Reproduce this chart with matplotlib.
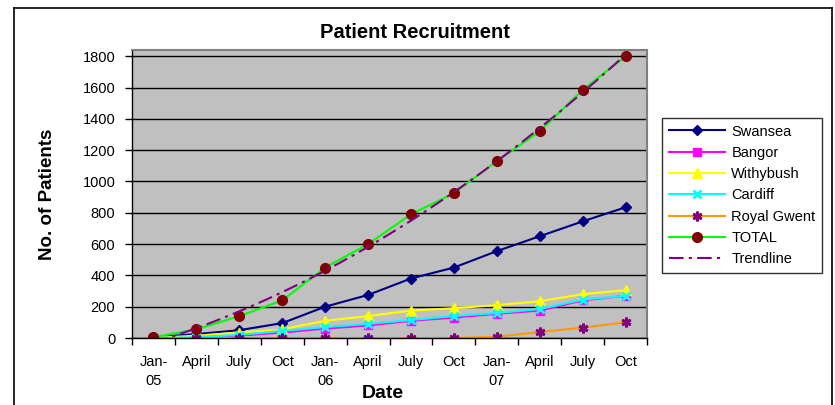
import numpy as np
import matplotlib
matplotlib.use('Agg')
import matplotlib.pyplot as plt
from matplotlib.lines import Line2D

plt.rcParams['font.family'] = ['Liberation Sans', 'DejaVu Sans']

# data
months = ['Jan-\n05', 'April', 'July', 'Oct', 'Jan-\n06', 'April', 'July', 'Oct',
          'Jan-\n07', 'April', 'July', 'Oct']
swansea = [5, 25, 50, 95, 200, 275, 380, 450, 555, 650, 745, 835]
bangor = [0, 10, 15, 35, 60, 80, 110, 130, 155, 175, 240, 270]
withybush = [0, 15, 35, 55, 110, 140, 175, 190, 210, 235, 280, 305]
cardiff = [0, 5, 20, 45, 70, 90, 115, 140, 160, 185, 245, 270]
royal_gwent = [0, 0, 0, 0, 0, 0, 0, 0, 8, 38, 66, 100]
total = [5, 55, 140, 240, 450, 600, 790, 925, 1130, 1320, 1585, 1800]

x = np.arange(len(months))

fig = plt.figure(figsize=(8.35, 4.05), dpi=100)
ax = fig.add_axes([132/835, 1 - 338/405, 515/835, 288/405])
ax.set_facecolor('#C0C0C0')

ax.plot(x, swansea, color='#000080', marker='D', ms=5.5, lw=1.5, label='Swansea')
ax.plot(x, bangor, color='#FF00FF', marker='s', ms=5.5, lw=1.5, label='Bangor')
ax.plot(x, withybush, color='#FFFF00', marker='^', ms=6.5, lw=1.5, label='Withybush')
ax.plot(x, cardiff, color='#00FFFF', marker='x', ms=6, mew=2, lw=1.5, label='Cardiff')
ax.plot(x, royal_gwent, color='#FF9900', marker=(6, 2, 0), ms=7, mew=2,
        mec='#800080', lw=1.5, label='Royal Gwent')
ax.plot(x, total, color='#00FF00', marker='o', ms=7, mfc='#800000', mec='#800000',
        lw=1.5, label='TOTAL')

# 2nd order polynomial trendline of TOTAL (as Excel does)
coef = np.polyfit(x, total, 2)
xs = np.linspace(0, len(months) - 1, 200)
ax.plot(xs, np.polyval(coef, xs), color='#800080', lw=1.5,
        dashes=(7, 2.5, 1.5, 2.5), label='Trendline', zorder=2.5)

ax.set_xlim(-0.5, len(months) - 0.5)
ax.set_ylim(0, 1840)
ax.set_yticks(range(0, 1801, 200))
ax.yaxis.grid(True, color='black', lw=1)
ax.set_axisbelow(True)

ax.set_xticks(np.arange(-0.5, len(months), 1))
ax.set_xticklabels([])
ax.set_xticks(x, minor=True)
ax.set_xticklabels(months, minor=True, fontsize=10.5, linespacing=1.45)
ax.tick_params(axis='x', which='minor', length=0, pad=12)
ax.tick_params(axis='x', which='major', length=5, color='black', width=1)
ax.tick_params(axis='y', length=5, width=1, labelsize=10.5, pad=7)

for s in ['top', 'right']:
    ax.spines[s].set_color('#808080')
    ax.spines[s].set_linewidth(1.5)
for s in ['left', 'bottom']:
    ax.spines[s].set_color('black')
    ax.spines[s].set_linewidth(1)

fig.text(0.497, 1 - 33/405, 'Patient Recruitment', ha='center', va='center',
         fontsize=14.5, fontweight='bold')
fig.text(47/835, 1 - 194/405, 'No. of Patients', ha='center', va='center',
         rotation=90, fontsize=13.5, fontweight='bold')
fig.text(383/835, 1 - 394/405, 'Date', ha='center', va='center',
         fontsize=14, fontweight='bold')

leg = ax.legend(loc='upper left', bbox_to_anchor=(662/835, 1 - 118/405),
                bbox_transform=fig.transFigure, fontsize=10.5, frameon=True,
                fancybox=False, edgecolor='black', borderaxespad=0,
                handlelength=3.9, labelspacing=0.5, borderpad=0.45,
                handletextpad=0.4)
leg.get_frame().set_linewidth(1)

# outer chart frame (no bottom edge visible)
fr = dict(color='black', lw=1.2, transform=fig.transFigure)
fig.add_artist(Line2D([14/835, 14/835], [0, 1 - 8/405], **fr))
fig.add_artist(Line2D([14/835, 832/835], [1 - 8/405, 1 - 8/405], **fr))
fig.add_artist(Line2D([832/835, 832/835], [0, 1 - 8/405], **fr))

fig.savefig('out.png', dpi=100)
